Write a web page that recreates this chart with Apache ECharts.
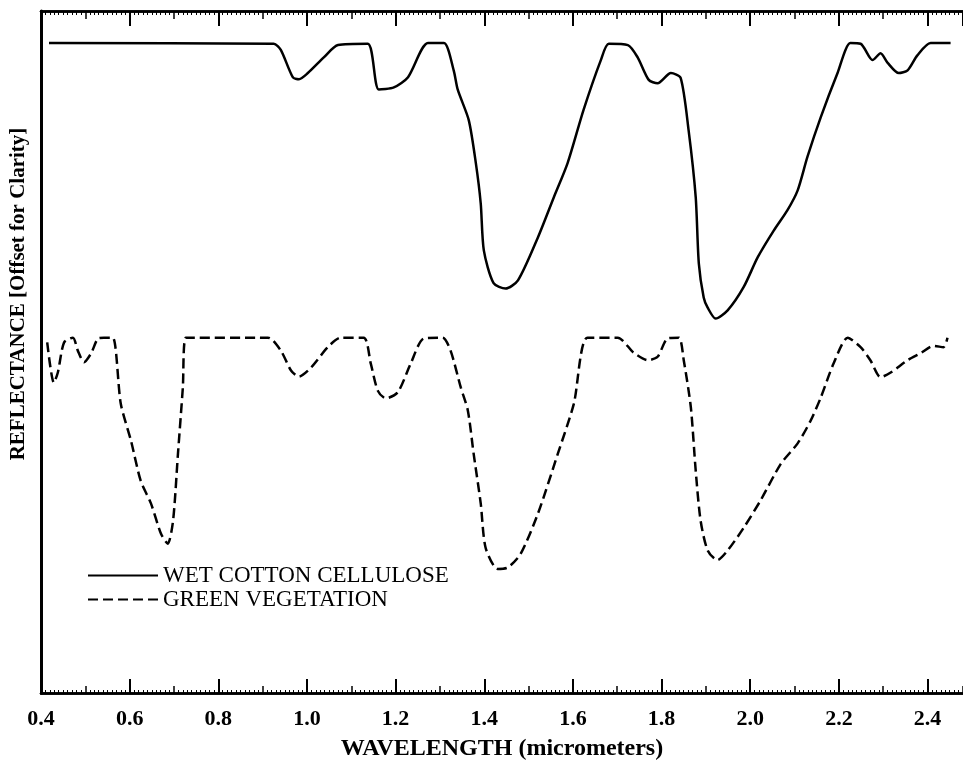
<!DOCTYPE html>
<html>
<head>
<meta charset="utf-8">
<script src="https://cdn.jsdelivr.net/npm/echarts@6/dist/echarts.min.js"></script>
<style>
  html, body { margin: 0; padding: 0; background: #fff; }
  #chart { width: 963px; height: 761px; }
</style>
</head>
<body>
<div id="chart"></div>
<script>
// Wavelength in micrometers, reflectance in arbitrary offset units
const cottonWavelength = [0.418, 0.925, 0.941, 0.968, 0.982, 1.002, 1.038, 1.070, 1.137, 1.162, 1.196, 1.228, 1.273, 1.309,
  1.331, 1.340, 1.365, 1.381, 1.392, 1.399, 1.421, 1.448, 1.476, 1.521, 1.557, 1.588, 1.624, 1.663, 1.681, 1.724,
  1.746, 1.771, 1.791, 1.821, 1.843, 1.861, 1.877, 1.884, 1.895, 1.904, 1.922, 1.949, 1.985, 2.017, 2.053, 2.084,
  2.107, 2.129, 2.159, 2.197, 2.226, 2.249, 2.276, 2.294, 2.310, 2.335, 2.355, 2.377, 2.407, 2.452];
const cottonReflectance = [95.3, 95.2, 94.3, 90.3, 90.0, 90.9, 93.2, 95.0, 95.2, 88.5, 88.8, 90.3, 95.3, 95.3,
  91.3, 88.5, 84.0, 77.7, 71.8, 64.9, 60.1, 59.3, 60.5, 66.8, 72.7, 77.7, 85.5, 92.8, 95.2, 95.0,
  93.2, 89.9, 89.4, 90.9, 90.2, 82.5, 72.7, 63.0, 58.0, 56.5, 54.9, 56.1, 59.5, 63.9, 67.8, 70.8,
  73.7, 78.6, 84.4, 90.9, 95.3, 95.2, 92.8, 93.8, 92.4, 90.9, 91.3, 93.5, 95.3, 95.3];

const vegWavelength = [0.414, 0.429, 0.438, 0.452, 0.472, 0.483, 0.497, 0.513, 0.529, 0.542, 0.562, 0.580, 0.603,
  0.625, 0.648, 0.671, 0.686, 0.698, 0.709, 0.720, 0.727, 0.912, 0.941, 0.964, 0.982, 1.009, 1.047, 1.076, 1.128,
  1.144, 1.160, 1.178, 1.205, 1.234, 1.264, 1.306, 1.324, 1.347, 1.363, 1.376, 1.392, 1.403, 1.430, 1.453, 1.482,
  1.521, 1.566, 1.602, 1.633, 1.701, 1.737, 1.769, 1.791, 1.814, 1.839, 1.850, 1.866, 1.877, 1.888, 1.904, 1.926,
  1.949, 1.985, 2.023, 2.069, 2.107, 2.136, 2.159, 2.188, 2.220, 2.249, 2.271, 2.294, 2.317, 2.355, 2.384, 2.414,
  2.436, 2.445];
const vegReflectance = [51.4, 45.5, 47.0, 51.4, 52.1, 50.2, 48.5, 49.8, 52.0, 52.1, 52.1, 42.4, 37.0,
  31.1, 27.8, 23.3, 21.9, 25.3, 35.1, 44.8, 52.1, 52.1, 50.2, 47.3, 46.4, 47.7, 50.7, 52.1, 52.1,
  48.3, 44.3, 43.2, 44.1, 48.3, 52.0, 52.1, 50.2, 44.8, 41.4, 35.1, 27.8, 21.3, 18.2, 18.4, 20.4,
  26.3, 35.1, 42.4, 52.1, 52.1, 49.9, 48.8, 49.3, 52.0, 52.1, 48.8, 41.9, 32.6, 25.3, 20.9, 19.5,
  20.9, 24.2, 28.2, 33.6, 36.6, 39.9, 43.3, 48.3, 52.1, 50.7, 48.8, 46.3, 47.0, 48.8, 49.8, 50.9,
  50.7, 52.1];

const seriesNames = ['WET COTTON CELLULOSE', 'GREEN VEGETATION'];
const xTitle = 'WAVELENGTH (micrometers)';
const yTitle = 'REFLECTANCE [Offset for Clarity]';

const FONT = '"Liberation Serif", "DejaVu Serif", serif';
const pairs = (xs, ys) => xs.map((x, i) => [x, ys[i]]);

const chart = echarts.init(document.getElementById('chart'), null, { renderer: 'canvas' });

const baseX = {
  type: 'value', min: 0.4, max: 2.48, gridIndex: 0,
  splitLine: { show: false },
  axisLine: { show: true, onZero: false, lineStyle: { color: '#000', width: 2.5 } }
};

chart.setOption({
  animation: false,
  backgroundColor: '#fff',
  grid: { left: 41, right: 0, top: 11, bottom: 68, containLabel: false, outerBoundsMode: 'none' },
  xAxis: [
    // bottom axis: labelled majors every 0.2 micrometers
    Object.assign({}, baseX, {
      position: 'bottom', interval: 0.2,
      axisTick: { show: true, inside: true, length: 14, lineStyle: { color: '#000', width: 2 } },
      minorTick: { show: false },
      axisLabel: {
        show: true, margin: 15, color: '#000', fontFamily: FONT, fontSize: 22, fontWeight: 'bold',
        showMaxLabel: false, formatter: v => v.toFixed(1)
      },
      name: xTitle, nameLocation: 'middle', nameGap: 44,
      nameTextStyle: { color: '#000', fontFamily: FONT, fontSize: 24, fontWeight: 'bold' }
    }),
    // bottom axis: intermediate and fine ticks
    Object.assign({}, baseX, {
      position: 'bottom', interval: 0.1,
      axisTick: { show: true, inside: true, length: 7, lineStyle: { color: '#000', width: 1.5 } },
      minorTick: { show: true, splitNumber: 10, length: 3, lineStyle: { color: '#000', width: 1 } },
      axisLabel: { show: false }
    }),
    // top axis
    Object.assign({}, baseX, {
      position: 'top', interval: 0.2,
      axisTick: { show: true, inside: true, length: 15, lineStyle: { color: '#000', width: 2 } },
      minorTick: { show: false },
      axisLabel: { show: false }
    }),
    Object.assign({}, baseX, {
      position: 'top', interval: 0.1,
      axisTick: { show: true, inside: true, length: 8, lineStyle: { color: '#000', width: 1.5 } },
      minorTick: { show: true, splitNumber: 10, length: 4, lineStyle: { color: '#000', width: 1 } },
      axisLabel: { show: false }
    })
  ],
  yAxis: {
    type: 'value', min: 0, max: 100,
    axisLine: { show: true, lineStyle: { color: '#000', width: 3 } },
    axisTick: { show: false }, axisLabel: { show: false }, splitLine: { show: false }
  },
  legend: {
    orient: 'vertical', left: 82, top: 559,
    itemWidth: 70, itemHeight: 14, itemGap: 1,
    itemStyle: { opacity: 0 },
    textStyle: { color: '#000', fontFamily: FONT, fontSize: 23, padding: [0, 0, 0, 0] },
    data: seriesNames
  },
  graphic: [{
    type: 'text', x: 19, y: 294, rotation: Math.PI / 2,
    style: {
      text: yTitle, fill: '#000', font: 'bold 21px ' + FONT,
      align: 'center', verticalAlign: 'middle'
    }
  }],
  series: [
    {
      name: seriesNames[0], type: 'line', xAxisIndex: 0,
      data: pairs(cottonWavelength, cottonReflectance),
      symbol: 'none', smooth: 0.25,
      lineStyle: { color: '#000', width: 2.5, type: 'solid' },
      itemStyle: { color: '#000' }
    },
    {
      name: seriesNames[1], type: 'line', xAxisIndex: 0,
      data: pairs(vegWavelength, vegReflectance),
      symbol: 'none', smooth: 0.25,
      lineStyle: { color: '#000', width: 2.5, type: [10, 5] },
      itemStyle: { color: '#000' }
    }
  ]
});
</script>
</body>
</html>
